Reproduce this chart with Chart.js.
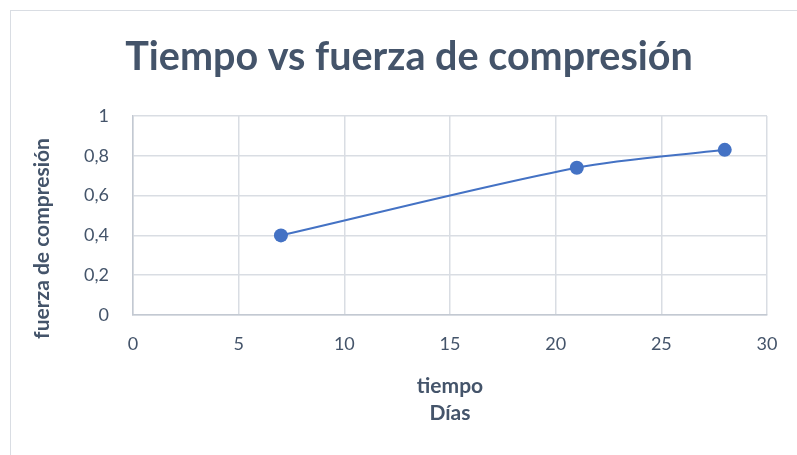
<!DOCTYPE html>
<html>
<head>
<meta charset="utf-8">
<script src="https://cdn.jsdelivr.net/npm/chart.js@4/dist/chart.umd.min.js"></script>
<style>
  html, body { margin: 0; padding: 0; background: #fff; }
  #marco { position: absolute; left: 10px; top: 10px; width: 800px; height: 460px; border: 1px solid #D9DDE3; box-sizing: border-box; }
  #lienzo { position: absolute; left: 0; top: 0; width: 797px; height: 455px; }
</style>
</head>
<body>
<div id="marco"></div>
<div id="lienzo"><canvas id="grafico"></canvas></div>
<script>
const dias = [7, 21, 28]
const fuerza = [0.40, 0.74, 0.83]
const ticksX = [0, 5, 10, 15, 20, 25, 30]
const ticksY = [0, 0.2, 0.4, 0.6, 0.8, 1]

const titulo = 'Tiempo vs fuerza de compresión'
const tituloY = 'fuerza de compresión'
const tituloX = ['tiempo', 'Días']

const colorTexto = '#44546A'
const colorSerie = '#4472C4'
const fuente = 'Lato, "Open Sans", sans-serif'

const puntos = dias.map((d, i) => ({ x: d, y: fuerza[i] }))

// título principal y título vertical, dibujados a mano para ubicarlos libremente
const rotulos = {
  id: 'rotulos',
  afterDraw(chart) {
    const ctx = chart.ctx
    const area = chart.chartArea
    ctx.save()
    ctx.fillStyle = colorTexto
    ctx.textAlign = 'center'
    ctx.textBaseline = 'middle'
    ctx.font = `bold 39.5px ${fuente}`
    ctx.fillText(titulo, 409, 57)
    ctx.translate(42, (area.top + area.bottom) / 2 + 23)
    ctx.rotate(-Math.PI / 2)
    ctx.font = `bold 21px ${fuente}`
    ctx.fillText(tituloY, 0, 0)
    ctx.restore()
  }
}

new Chart(document.getElementById('grafico'), {
  type: 'scatter',
  data: {
    datasets: [{
      label: 'fuerza',
      data: puntos,
      showLine: true,
      tension: 0.3,
      borderColor: colorSerie,
      borderWidth: 2,
      backgroundColor: colorSerie,
      pointRadius: 7,
      pointHoverRadius: 7,
      pointBorderWidth: 0
    }]
  },
  options: {
    responsive: true,
    maintainAspectRatio: false,
    animation: false,
    layout: { padding: { left: 0, right: 30, top: 116, bottom: 0 } },
    plugins: {
      legend: { display: false },
      tooltip: { enabled: false },
      title: { display: false }
    },
    scales: {
      x: {
        type: 'linear',
        min: 0,
        max: 30,
        afterBuildTicks: s => { s.ticks = ticksX.map(v => ({ value: v })) },
        afterFit: s => { s.height = 140 },
        grid: { color: '#D9DDE3', lineWidth: 1.5, drawTicks: false },
        border: { color: '#C3C9D2', width: 1.5 },
        ticks: { color: colorTexto, font: { family: fuente, size: 18 }, padding: 18 },
        title: {
          display: true,
          text: tituloX,
          color: colorTexto,
          font: { family: fuente, size: 21, weight: 'bold', lineHeight: 1.3 },
          padding: { top: 0, bottom: 28 }
        }
      },
      y: {
        min: 0,
        max: 1,
        afterBuildTicks: s => { s.ticks = ticksY.map(v => ({ value: v })) },
        afterFit: s => { s.width = 133 },
        grid: { color: '#D9DDE3', lineWidth: 1.5, drawTicks: false },
        border: { color: '#C3C9D2', width: 1.5 },
        ticks: {
          color: colorTexto,
          font: { family: fuente, size: 18 },
          padding: 24,
          callback: v => String(Math.round(v * 10) / 10).replace('.', ',')
        }
      }
    }
  },
  plugins: [rotulos]
})
</script>
</body>
</html>
